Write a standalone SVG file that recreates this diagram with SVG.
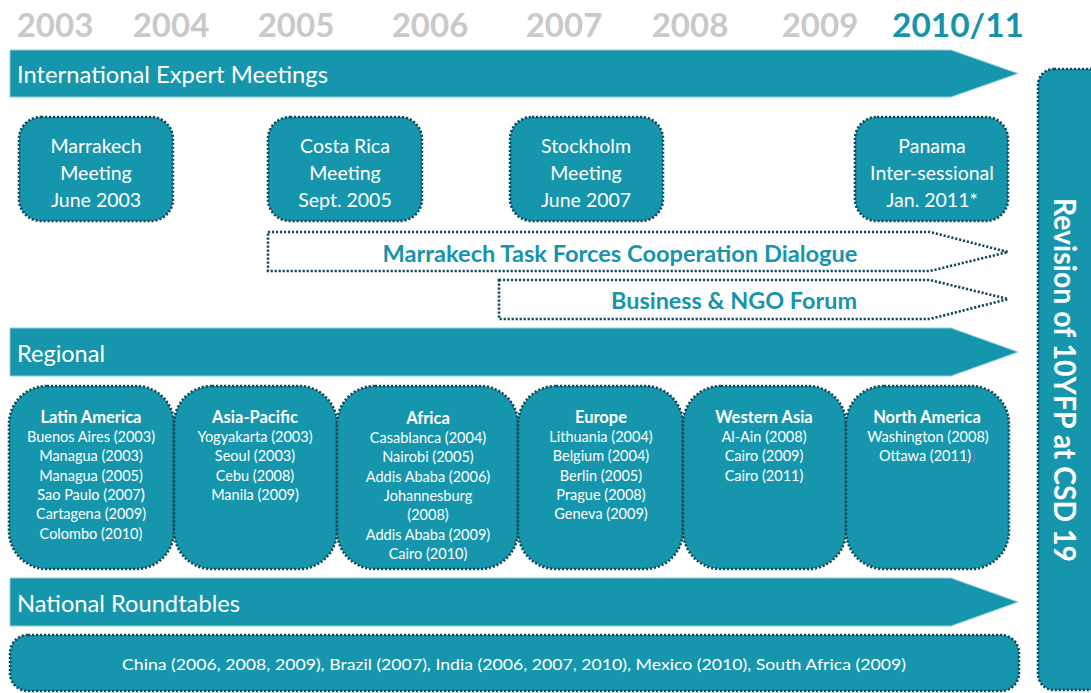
<svg xmlns="http://www.w3.org/2000/svg" width="1091" height="693" viewBox="0 0 1091 693">
<style>
text{font-family:Lato,"Open Sans","Liberation Sans",sans-serif}
.yr{font-size:33px;font-weight:bold;fill:#c9c9c9;text-anchor:middle}
.yrc{fill:#1794ab}
.bar{fill:#1696ad;stroke:#8fd0db;stroke-width:1}
.barl{font-size:23px;fill:#fff}
.box{fill:#1696ad;stroke:#12495a;stroke-width:2.6;stroke-dasharray:2.2 1.8}
.dash{fill:#fff;stroke:#12495a;stroke-width:2.6;stroke-dasharray:2.2 1.8}
.mt{font-size:19.5px;fill:#fff;text-anchor:middle}
.dl{font-size:22px;font-weight:bold;fill:#1794ab;text-anchor:middle}
.rt{font-size:16.5px;font-weight:bold;fill:#fff;text-anchor:middle}
.rl{font-size:14.5px;fill:#fff;text-anchor:middle}
.vt{font-size:30px;font-weight:bold;fill:#fff;text-anchor:middle}
</style>
<g id="years">
<text class="yr" x="55" y="37">2003</text>
<text class="yr" x="171" y="37">2004</text>
<text class="yr" x="296" y="37">2005</text>
<text class="yr" x="430" y="37">2006</text>
<text class="yr" x="564" y="37">2007</text>
<text class="yr" x="690" y="37">2008</text>
<text class="yr" x="820" y="37">2009</text>
<text class="yr yrc" x="958" y="37" textLength="132" lengthAdjust="spacingAndGlyphs">2010/11</text>
</g>
<g id="bar-international">
<polygon class="bar" points="10,50 951,50 1018,73.5 951,97 10,97"/>
<text class="barl" x="17" y="83" textLength="311" lengthAdjust="spacingAndGlyphs">International Expert Meetings</text>
</g>
<g id="meeting-marrakech">
<rect class="box" x="19" y="117" width="154" height="104" rx="22"/>
<text class="mt" x="96" y="153">Marrakech</text>
<text class="mt" x="96" y="180">Meeting</text>
<text class="mt" x="96" y="207">June 2003</text>
</g>
<g id="meeting-costarica">
<rect class="box" x="268" y="117" width="154" height="104" rx="22"/>
<text class="mt" x="345" y="153">Costa Rica</text>
<text class="mt" x="345" y="180">Meeting</text>
<text class="mt" x="345" y="207">Sept. 2005</text>
</g>
<g id="meeting-stockholm">
<rect class="box" x="510" y="117" width="153" height="104" rx="22"/>
<text class="mt" x="586" y="153">Stockholm</text>
<text class="mt" x="586" y="180">Meeting</text>
<text class="mt" x="586" y="207">June 2007</text>
</g>
<g id="meeting-panama">
<rect class="box" x="855" y="117" width="153" height="104" rx="22"/>
<text class="mt" x="932" y="153">Panama</text>
<text class="mt" x="932" y="180">Inter-sessional</text>
<text class="mt" x="932" y="207">Jan. 2011*</text>
</g>
<g id="taskforces">
<polygon class="dash" points="268,232 930,232 1008,252 930,271 268,271"/>
<text class="dl" x="620" y="262" textLength="475" lengthAdjust="spacingAndGlyphs">Marrakech Task Forces Cooperation Dialogue</text>
</g>
<g id="business-ngo">
<polygon class="dash" points="499,280 930,280 1008,299 930,319 499,319"/>
<text class="dl" x="734" y="309" textLength="246" lengthAdjust="spacingAndGlyphs">Business &amp; NGO Forum</text>
</g>
<g id="bar-regional">
<polygon class="bar" points="10,328 951,328 1018,352 951,376 10,376"/>
<text class="barl" x="17" y="362" textLength="88" lengthAdjust="spacingAndGlyphs">Regional</text>
</g>
<g id="region-latin-america">
<rect class="box" x="9" y="386" width="165" height="183" rx="38"/>
<text class="rt" x="91" y="423">Latin America</text>
<text class="rl" x="91" y="442">Buenos Aires (2003)</text>
<text class="rl" x="91" y="461">Managua (2003)</text>
<text class="rl" x="91" y="481">Managua (2005)</text>
<text class="rl" x="91" y="500">Sao Paulo (2007<tspan font-weight="bold">)</tspan></text>
<text class="rl" x="91" y="519">Cartagena (2009)</text>
<text class="rl" x="91" y="539">Colombo (2010)</text>
</g>
<g id="region-asia-pacific">
<rect class="box" x="174" y="386" width="163" height="183" rx="38"/>
<text class="rt" x="255" y="423">Asia-Pacific</text>
<text class="rl" x="255" y="442">Yogyakarta (2003)</text>
<text class="rl" x="255" y="461">Seoul (2003)</text>
<text class="rl" x="255" y="481">Cebu (2008)</text>
<text class="rl" x="255" y="500">Manila (2009)</text>
</g>
<g id="region-africa">
<rect class="box" x="337" y="386" width="181" height="183" rx="38"/>
<text class="rt" x="428" y="424">Africa</text>
<text class="rl" x="428" y="443">Casablanca (2004)</text>
<text class="rl" x="428" y="462">Nairobi (2005)</text>
<text class="rl" x="428" y="482">Addis Ababa (2006)</text>
<text class="rl" x="428" y="501">Johannesburg</text>
<text class="rl" x="428" y="520">(2008)</text>
<text class="rl" x="428" y="540">Addis Ababa (2009)</text>
<text class="rl" x="428" y="559">Cairo (2010)</text>
</g>
<g id="region-europe">
<rect class="box" x="518" y="386" width="165" height="183" rx="38"/>
<text class="rt" x="601" y="423">Europe</text>
<text class="rl" x="601" y="442">Lithuania (2004)</text>
<text class="rl" x="601" y="461">Belgium (2004)</text>
<text class="rl" x="601" y="481">Berlin (2005)</text>
<text class="rl" x="601" y="500">Prague (2008)</text>
<text class="rl" x="601" y="519">Geneva (2009)</text>
</g>
<g id="region-western-asia">
<rect class="box" x="683" y="386" width="163" height="183" rx="38"/>
<text class="rt" x="764" y="423">Western Asia</text>
<text class="rl" x="764" y="442">Al-Ain (2008)</text>
<text class="rl" x="764" y="461">Cairo (2009)</text>
<text class="rl" x="764" y="481">Cairo (2011)</text>
</g>
<g id="region-north-america">
<rect class="box" x="846" y="386" width="163" height="183" rx="38"/>
<text class="rt" x="927" y="423">North America</text>
<text class="rl" x="928" y="442">Washington (2008)</text>
<text class="rl" x="927" y="461">Ottawa (2011)<tspan fill="#7b74c9">)</tspan></text>
</g>
<g id="bar-national">
<polygon class="bar" points="10,578 951,578 1018,602 951,626 10,626"/>
<text class="barl" x="17" y="612" textLength="223" lengthAdjust="spacingAndGlyphs">National Roundtables</text>
</g>
<g id="national-list">
<rect class="box" x="10" y="635" width="1009" height="56" rx="18"/>
<text class="rl" x="514" y="670" font-size="15" textLength="784" lengthAdjust="spacingAndGlyphs">China (2006, 2008, 2009), Brazil (2007), India (2006, 2007, 2010), Mexico (2010),  South Africa (2009)</text>
</g>
<g id="revision-csd19">
<rect class="box" x="1038" y="69" width="70" height="621" rx="16"/>
<text class="vt" transform="translate(1064,380) rotate(90)" x="0" y="0" dy="10.5" textLength="364" lengthAdjust="spacingAndGlyphs">Revision of 10YFP at CSD 19</text>
</g>
<g id="connectors"></g>
</svg>
